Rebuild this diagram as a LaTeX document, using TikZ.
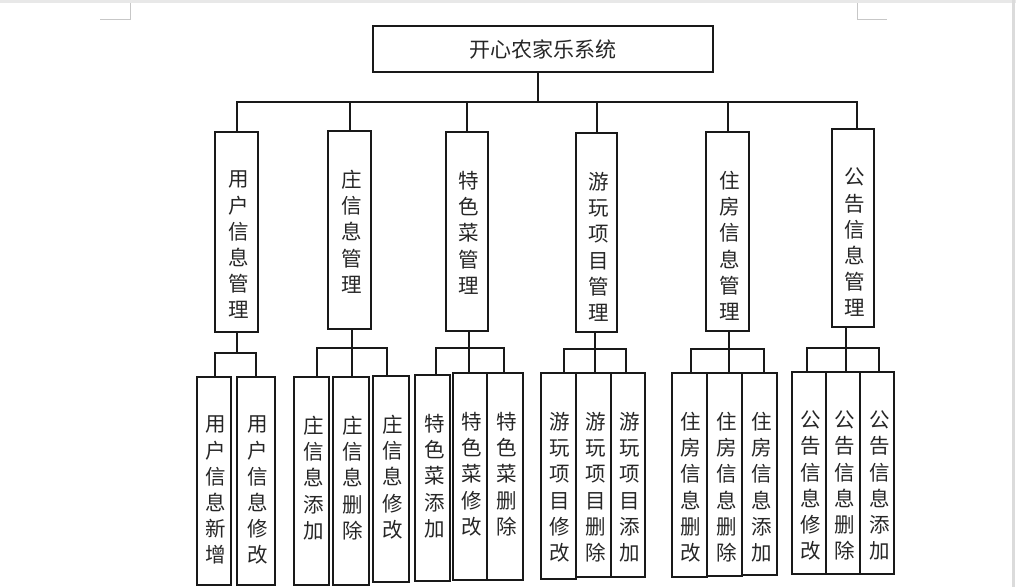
\documentclass[tikz,border=0pt]{standalone}
\usepackage{fontspec}
\newfontfamily\cjk{Noto Sans CJK SC}
\begin{document}
\begin{tikzpicture}[x=1pt,y=-1pt,
  boxst/.style={draw=black!90, line width=2pt, inner sep=0pt, rectangle},
  vt/.style={font=\cjk\fontsize{20.5}{26.2}\selectfont, align=center, inner sep=0pt, text=black!85},
  link/.style={draw=black!90, line width=2pt},
  pagemark/.style={draw=black!22, line width=0.8pt}]
\useasboundingbox (0,0) rectangle (1016,587);
% page view edges
\fill[black!9] (0,0) rectangle (1016,3);
\fill[black!14] (1012,0) rectangle (1014.5,587);
\draw[pagemark] (130,3) -- (130,19) -- (100,19);
\draw[pagemark] (857,3) -- (857,19) -- (887,19);
\newcommand\mybox[6]{%
  \node[boxst, minimum width={(#4-#2)*1pt}, minimum height={(#5-#3)*1pt}] (#1) at ({(#2+#4)/2},{(#3+#5)/2}) {};
  \node[vt, anchor=north] (#1t) at ([xshift=2pt,yshift=-40pt]#1.north) {#6};}
% root
\node[boxst, minimum width=340pt, minimum height=46pt, font=\cjk\fontsize{21}{24}\selectfont, text=black!85] (root) at (543,49) {开心农家乐系统};
% level 2
\mybox{b1}{215}{132}{258}{332}{用\\户\\信\\息\\管\\理}
\mybox{b2}{328}{131}{371}{329}{庄\\信\\息\\管\\理}
\mybox{b3}{446}{132}{488}{331}{特\\色\\菜\\管\\理}
\mybox{b4}{576}{133}{617}{332}{游\\玩\\项\\目\\管\\理}
\mybox{b5}{706}{132}{749}{331}{住\\房\\信\\息\\管\\理}
\mybox{b6}{832}{129}{874}{327}{公\\告\\信\\息\\管\\理}
% level 3
\mybox{c11}{197}{377}{231}{585}{用\\户\\信\\息\\新\\增}
\mybox{c12}{237}{377}{275}{585}{用\\户\\信\\息\\修\\改}
\mybox{c21}{294}{377}{329}{585}{庄\\信\\息\\添\\加}
\mybox{c22}{333}{377}{369}{585}{庄\\信\\息\\删\\除}
\mybox{c23}{373}{376}{409}{582}{庄\\信\\息\\修\\改}
\mybox{c31}{415}{375}{450}{581}{特\\色\\菜\\添\\加}
\mybox{c32}{453}{373}{487}{580}{特\\色\\菜\\修\\改}
\mybox{c33}{487}{373}{522.7}{580}{特\\色\\菜\\删\\除}
\mybox{c41}{540.7}{373}{575.7}{578.7}{游\\玩\\项\\目\\修\\改}
\mybox{c42}{575.7}{373}{611}{577}{游\\玩\\项\\目\\删\\除}
\mybox{c43}{611}{373}{645}{577}{游\\玩\\项\\目\\添\\加}
\mybox{c51}{671.7}{373}{706.7}{576.7}{住\\房\\信\\息\\删\\改}
\mybox{c52}{706.7}{373}{742}{575.7}{住\\房\\信\\息\\删\\除}
\mybox{c53}{742}{373}{776.7}{574.7}{住\\房\\信\\息\\添\\加}
\mybox{c61}{791.7}{371.7}{826}{574}{公\\告\\信\\息\\修\\改}
\mybox{c62}{826}{371.7}{860.3}{574}{公\\告\\信\\息\\删\\除}
\mybox{c63}{860.3}{371.7}{894.3}{574}{公\\告\\信\\息\\添\\加}
% junctions
\coordinate (j0) at (537.7,101.5);
\coordinate (j1) at (236.7,353);
\coordinate (j2) at (351.7,348);
\coordinate (j3) at (469,348);
\coordinate (j4) at (595,349);
\coordinate (j5) at (729,349);
\coordinate (j6) at (846,348);
% level 1 connectors
\draw[link] (root.south -| j0) -- (j0);
\draw[link] (b1.north) |- (j0);
\draw[link] (b2.north) |- (j0);
\draw[link] (b3.north) |- (j0);
\draw[link] (b4.north) |- (j0);
\draw[link] (b5.north) |- (j0);
\draw[link] ([xshift=4pt]b6.north) |- (j0);
% group 1
\draw[link] (b1.south -| j1) -- (j1);
\draw[link] ([xshift=1pt]c11.north) |- (j1);
\draw[link] (c12.north) |- (j1);
% group 2
\draw[link] (b2.south -| j2) -- (j2);
\draw[link] ([xshift=5pt]c21.north) |- (j2);
\draw[link] (c22.north -| j2) -- (j2);
\draw[link] ([xshift=-4pt]c23.north) |- (j2);
% group 3
\draw[link] (b3.south -| j3) -- (j3);
\draw[link] ([xshift=3pt]c31.north) |- (j3);
\draw[link] (c32.north -| j3) -- (j3);
\draw[link] ([xshift=-1pt]c33.north) |- (j3);
% group 4
\draw[link] (b4.south -| j4) -- (j4);
\draw[link] ([xshift=6pt]c41.north) |- (j4);
\draw[link] (c42.north -| j4) -- (j4);
\draw[link] ([xshift=-2pt]c43.north) |- (j4);
% group 5
\draw[link] (b5.south -| j5) -- (j5);
\draw[link] ([xshift=2pt]c51.north) |- (j5);
\draw[link] (c52.north -| j5) -- (j5);
\draw[link] ([xshift=5pt]c53.north) |- (j5);
% group 6
\draw[link] (b6.south -| j6) -- (j6);
\draw[link] ([xshift=-2pt]c61.north) |- (j6);
\draw[link] (c62.north -| j6) -- (j6);
\draw[link] ([xshift=2pt]c63.north) |- (j6);
\end{tikzpicture}
\end{document}
